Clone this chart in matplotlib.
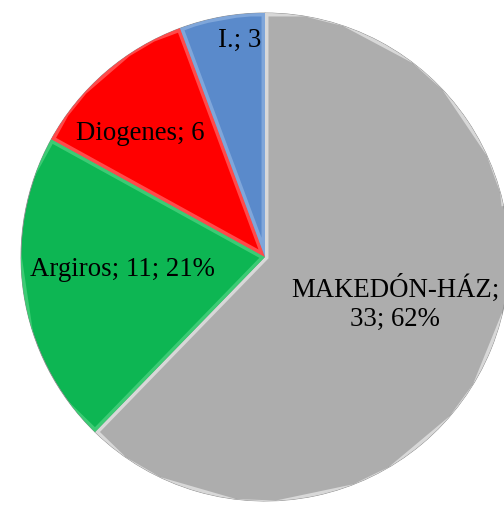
import numpy as np
import matplotlib.pyplot as plt

names = ['MAKEDÓN-HÁZ', 'Argiros', 'Diogenes', 'I.']
values = [33, 11, 6, 3]
label_texts = ['MAKEDÓN-HÁZ;\n33; 62%', 'Argiros; 11; 21%', 'Diogenes; 6', 'I.; 3']
colors = ['#ADADAD', '#0DB653', '#FF0000', '#5A8ACB']
bevel = ['#D8D8D8', '#3CCB74', '#FF4A4A', '#7FA6DA']

# label offsets from centre, in pixels
label_pos = [(130, -45), (-143, -12), (-125, 125), (-25, 218)]

fig = plt.figure(figsize=(5.04, 5.06), dpi=100)
ax = fig.add_axes([0, 0, 1, 1])
cx, cy, r = 265, 258, 244

wedges, _ = ax.pie(values, colors=colors, startangle=90, counterclock=False, radius=r,
                   wedgeprops=dict(edgecolor='none'))

# soft inner edge, a bit like the bevel in the original
for w, bc in zip(wedges, bevel):
    ax.add_patch(plt.Polygon(w.get_path().vertices * 1, closed=True, fill=False,
                             edgecolor=bc, linewidth=5, clip_path=w, transform=w.get_transform()))
    w.set_edgecolor('#8a8a8a')
    w.set_linewidth(0.6)

for txt, (dx, dy) in zip(label_texts, label_pos):
    ax.text(dx, dy, txt, ha='center', va='center', fontsize=19.3,
            family='Liberation Serif', linespacing=1.2)

ax.set_xlim(-cx, 504 - cx)
ax.set_ylim(-(506 - cy), cy)
ax.set_aspect('equal')
ax.axis('off')

fig.savefig('out.png', dpi=100)
